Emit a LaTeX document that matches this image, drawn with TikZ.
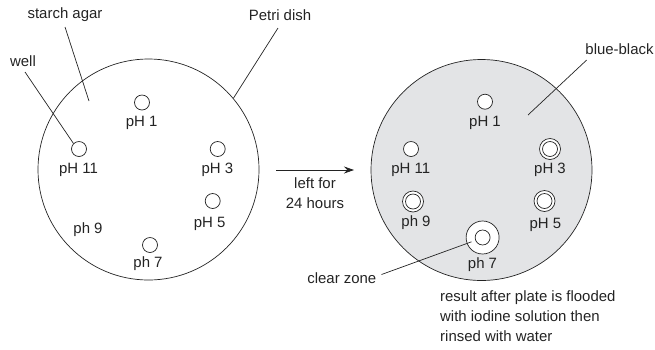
\documentclass[tikz,border=0pt]{standalone}
\usepackage{fontspec}
\setmainfont{Liberation Sans}
\usetikzlibrary{arrows.meta}
\definecolor{ink}{RGB}{35,35,35}
\definecolor{agar}{RGB}{227,228,230}
\begin{document}
\begin{tikzpicture}[x=1bp,y=-1bp,
  every node/.style={text=ink},
  txt/.style={font=\fontsize{15}{20}\selectfont, inner sep=0pt},
  dish/.style={circle, draw=ink, line width=0.7pt, minimum size=221bp, inner sep=0pt},
  well/.style={circle, draw=ink, line width=0.7pt, fill=white, minimum size=15bp, inner sep=0pt},
  ring/.style={circle, draw=ink, line width=0.7pt, fill=white, minimum size=21bp, inner sep=0pt},
  zone/.style={circle, draw=ink, line width=0.7pt, fill=white, minimum size=33bp, inner sep=0pt},
  leader/.style={draw=ink, line width=0.7pt}]
\useasboundingbox (0,0) rectangle (655,349);
% left dish
\node[dish] (d1) at (148.5,169.5) {};
\node[well] (a1) at (142,102.5) {};
\node[well] (a11) at (79,149) {};
\node[well] (a3) at (217.7,149) {};
\node[well] (a5) at (212.7,201) {};
\node[well] (a7) at (150,245) {};
\node[txt] (la1) at (141.7,122.7) {pH 1};
\node[txt] (la11) at (78.5,169.5) {pH 11};
\node[txt] (la3) at (217.3,169.5) {pH 3};
\node[txt] (la5) at (209.7,223.5) {pH 5};
\node[txt] (la9) at (88,230) {ph 9};
\node[txt] (la7) at (148,263.5) {ph 7};
\node[txt] (sa) at (65,15) {starch agar};
\node[txt] (pd) at (280,15) {Petri dish};
\node[txt] (wl) at (23,61) {well};
\coordinate (saend) at (89,101);
\coordinate (sastart) at (65,27);
\coordinate (pdstart) at (278,28);
\coordinate (wlstart) at (25,72);
\draw[leader] (sastart) -- (saend);
\draw[leader] (pdstart) -- (d1.40.6);
\draw[leader] (wlstart) -- (a11.135);
% arrow
\coordinate (arS) at (276,170);
\coordinate (arE) at (354,170);
\draw[leader, -{Stealth[length=10bp,width=7bp]}] (arS) -- (arE);
\node[txt, align=center] (lf) at (315,193) {left for\\24 hours};
% right dish
\node[dish, fill=agar] (d2) at (481.5,170) {};
\node[well] (b1) at (485,101.7) {};
\node[well] (b11) at (411,149) {};
\node[ring] (b3o) at (550,149) {};
\node[well] (b3) at (550,149) {};
\node[ring] (b9o) at (413,201.5) {};
\node[well] (b9) at (413,201.5) {};
\node[ring] (b5o) at (544.5,201) {};
\node[well] (b5) at (544.5,201) {};
\node[zone] (b7o) at (482.6,237.5) {};
\node[well] (b7) at (482.6,237.5) {};
\node[txt] (lb1) at (485,122.7) {pH 1};
\node[txt] (lb11) at (410.8,169.5) {pH 11};
\node[txt] (lb3) at (550,169.8) {pH 3};
\node[txt] (lb9) at (416,222.7) {ph 9};
\node[txt] (lb5) at (545.3,224.8) {pH 5};
\node[txt] (lb7) at (482.5,264.5) {ph 7};
\node[txt] (bb) at (619.5,49) {blue-black};
\coordinate (bbstart) at (586.7,60);
\coordinate (bbend) at (528,115);
\draw[leader] (bbstart) -- (bbend);
\node[txt, anchor=east] (cz) at (376.5,278) {clear zone};
\coordinate (czend) at (471.5,241.8);
\draw[leader] ([xshift=5bp,yshift=3.5bp]cz.east) -- (czend);
\node[txt, align=left, anchor=west] (res) at (440,316) {result after plate is flooded\\with iodine solution then\\rinsed with water};
\end{tikzpicture}
\end{document}
